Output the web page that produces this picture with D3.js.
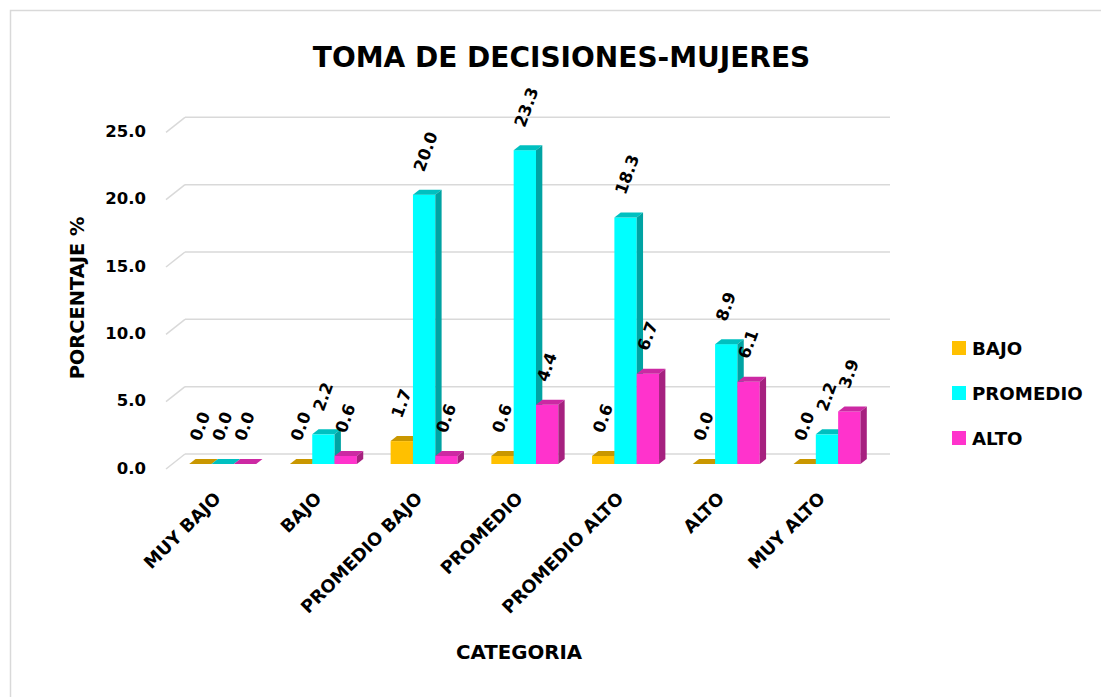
<!DOCTYPE html>
<html>
<head>
<meta charset="utf-8">
<script src="https://cdn.jsdelivr.net/npm/d3@7"></script>
<style>
  html, body { margin: 0; padding: 0; background: #ffffff; }
  svg { display: block; }
  text { font-family: "DejaVu Sans", sans-serif; font-weight: bold; fill: #000; }
</style>
</head>
<body>
<svg id="chart" width="1101" height="697"></svg>
<script>
// ---- data ----
const categories = ["MUY BAJO", "BAJO", "PROMEDIO BAJO", "PROMEDIO", "PROMEDIO ALTO", "ALTO", "MUY ALTO"];
const seriesNames = ["BAJO", "PROMEDIO", "ALTO"];
const bajoValues = [0.0, 0.0, 1.7, 0.6, 0.6, 0.0, 0.0];
const promedioValues = [0.0, 2.2, 20.0, 23.3, 18.3, 8.9, 2.2];
const altoValues = [0.0, 0.6, 0.6, 4.4, 6.7, 6.1, 3.9];
const yTicks = [0, 5, 10, 15, 20, 25];
const titleText = "TOMA DE DECISIONES-MUJERES";
const yTitle = "PORCENTAJE %";
const xTitle = "CATEGORIA";

const seriesValues = [bajoValues, promedioValues, altoValues];
const colors = {
  BAJO:     { front: "#FFC000", top: "#C99700", side: "#B08400" },
  PROMEDIO: { front: "#00FFFF", top: "#00C0C0", side: "#00A3A3" },
  ALTO:     { front: "#FF33CC", top: "#CC29A3", side: "#A6217F" }
};

const svg = d3.select("#chart");

// border
svg.append("rect").attr("x", 10.5).attr("y", 10.5).attr("width", 1100).attr("height", 700)
  .attr("fill", "none").attr("stroke", "#d9d9d9").attr("stroke-width", 1.5);

// scales (front plane)
const DX = 19, DY = -15;
const x = d3.scaleBand().domain(categories).range([166, 871]).paddingInner(0.335).paddingOuter(0.1675);
const xs = d3.scaleBand().domain(seriesNames).range([0, x.bandwidth()]).padding(0);
const y = d3.scaleLinear().domain([0, 25]).range([469, 132.3]);

// title
svg.append("text").attr("x", 561.5).attr("y", 67).attr("text-anchor", "middle")
  .style("font-size", "28px").text(titleText);

// gridlines on back wall + side wall diagonals
const grid = svg.append("g");
yTicks.forEach(t => {
  grid.append("line")
    .attr("x1", x.range()[0] + DX).attr("x2", x.range()[1] + DX)
    .attr("y1", y(t) + DY).attr("y2", y(t) + DY)
    .attr("stroke", "#d9d9d9").attr("stroke-width", 1.5);
  grid.append("line")
    .attr("x1", x.range()[0]).attr("x2", x.range()[0] + DX)
    .attr("y1", y(t)).attr("y2", y(t) + DY)
    .attr("stroke", "#d9d9d9").attr("stroke-width", 1.5);
});

// y axis tick labels
const yAxis = d3.axisLeft(y).tickValues(yTicks).tickFormat(d3.format(".1f")).tickSize(0).tickPadding(0);
const yg = svg.append("g").attr("transform", "translate(146,-1)").call(yAxis);
yg.select(".domain").remove();
yg.selectAll("text").attr("fill", "#000").style("font-size", "16.5px")
  .style("font-family", "DejaVu Sans, sans-serif").style("font-weight", "bold");

// bars (3D)
const bx = DX / 3, by = DY / 3;
const barsG = svg.append("g");
const labelData = [];
categories.forEach((c, ci) => {
  seriesNames.forEach((s, si) => {
    const v = seriesValues[si][ci];
    const col = colors[s];
    const w = xs.bandwidth();
    const x0 = x(c) + xs(s) + bx;
    const yt = y(v) + by;
    const yb = y(0) + by;
    const g = barsG.append("g");
    g.append("rect").attr("x", x0).attr("y", yt).attr("width", w).attr("height", Math.max(0, yb - yt))
      .attr("fill", col.front);
    g.append("polygon").attr("points", [[x0, yt], [x0 + w, yt], [x0 + w + bx, yt + by], [x0 + bx, yt + by]].map(p => p.join(",")).join(" "))
      .attr("fill", col.top);
    g.append("polygon").attr("points", [[x0 + w, yt], [x0 + w + bx, yt + by], [x0 + w + bx, yb + by], [x0 + w, yb]].map(p => p.join(",")).join(" "))
      .attr("fill", col.side);
    labelData.push({ x: x0 + w / 2, y: yt - 22, v });
  });
});

// data labels
svg.append("g").selectAll("text").data(labelData).join("text")
  .attr("transform", d => `translate(${d.x},${d.y}) rotate(-70)`)
  .attr("text-anchor", "start")
  .style("font-size", "16.5px")
  .text(d => d3.format(".1f")(d.v));

// category labels
svg.append("g").selectAll("text").data(categories).join("text")
  .attr("transform", c => `translate(${x(c) + x.bandwidth() / 2 + 1},495) rotate(-45)`)
  .attr("text-anchor", "end").attr("dy", "0.36em")
  .style("font-size", "17.7px")
  .text(c => c);

// axis titles
svg.append("text").attr("transform", "translate(77,298) rotate(-90)")
  .attr("text-anchor", "middle").attr("dy", "0.36em").style("font-size", "19.4px").text(yTitle);
svg.append("text").attr("x", 519).attr("y", 659).attr("text-anchor", "middle")
  .style("font-size", "19.8px").text(xTitle);

// legend
const legend = svg.append("g");
seriesNames.forEach((s, i) => {
  const cy = 348 + i * 45;
  legend.append("rect").attr("x", 952).attr("y", cy - 7).attr("width", 14).attr("height", 14)
    .attr("fill", colors[s].front);
  legend.append("text").attr("x", 972).attr("y", cy).attr("dy", "0.36em")
    .style("font-size", "18.2px").text(s);
});
</script>
</body>
</html>
